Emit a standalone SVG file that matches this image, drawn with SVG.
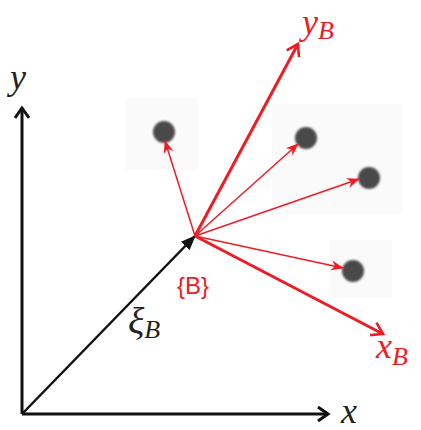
<svg xmlns="http://www.w3.org/2000/svg" width="421" height="430" viewBox="0 0 421 430">
<defs>
<marker id="openK" markerWidth="16" markerHeight="16" refX="13" refY="8" orient="auto" markerUnits="userSpaceOnUse"><path d="M3,1 L13,8 L3,15" fill="none" stroke="#111" stroke-width="3"/></marker>
<marker id="openR" markerWidth="18" markerHeight="18" refX="14" refY="9" orient="auto" markerUnits="userSpaceOnUse"><path d="M3,2 L14,9 L3,16" fill="none" stroke="#ee1c24" stroke-width="2.6"/></marker>
<marker id="fillK" markerWidth="16" markerHeight="14" refX="14" refY="7" orient="auto" markerUnits="userSpaceOnUse"><path d="M0,1 L15,7 L0,13 Z" fill="#111"/></marker>
<marker id="fillR" markerWidth="14" markerHeight="12" refX="12" refY="6" orient="auto" markerUnits="userSpaceOnUse"><path d="M0,1 L13,6 L0,11 L4,6 Z" fill="#ee1c24"/></marker>
<filter id="blur" x="-50%" y="-50%" width="200%" height="200%"><feGaussianBlur stdDeviation="1.2"/></filter>
</defs>
<style>
.ax{stroke:#111;stroke-width:3;fill:none}
.rx{stroke:#ee1c24;stroke-width:3;fill:none}
.rt{stroke:#ee1c24;stroke-width:1.5;fill:none}
.dot{fill:#4a4a4a;filter:url(#blur)}
.it{font-family:'Liberation Serif',serif;font-style:italic}
.patch{fill:#fafafa}
</style>
<g id="patches">
<rect class="patch" x="126" y="98" width="72" height="72"/>
<rect class="patch" x="272" y="104" width="130" height="110"/>
<rect class="patch" x="330" y="240" width="62" height="58"/>
</g>
<g id="dots">
<circle id="dot1" class="dot" cx="164" cy="132" r="11"/>
<circle id="dot2" class="dot" cx="306" cy="138" r="11"/>
<circle id="dot3" class="dot" cx="369" cy="178" r="11"/>
<circle id="dot4" class="dot" cx="353" cy="271" r="11"/>
</g>
<g id="connectors">
<line class="ax" x1="22" y1="414" x2="22" y2="108" marker-end="url(#openK)"/>
<line class="ax" x1="22" y1="414" x2="328" y2="414" marker-end="url(#openK)"/>
<line stroke="#111" stroke-width="2.5" x1="22" y1="414" x2="195" y2="236" marker-end="url(#fillK)"/>
<line class="rx" x1="195" y1="236" x2="298" y2="44" marker-end="url(#openR)"/>
<line class="rx" x1="195" y1="236" x2="383" y2="334" marker-end="url(#openR)"/>
<line class="rt" x1="195" y1="236" x2="165" y2="141" marker-end="url(#fillR)"/>
<line class="rt" x1="195" y1="236" x2="298" y2="144" marker-end="url(#fillR)"/>
<line class="rt" x1="195" y1="236" x2="359" y2="179" marker-end="url(#fillR)"/>
<line class="rt" x1="195" y1="236" x2="343" y2="268" marker-end="url(#fillR)"/>
</g>
<g id="labels">
<text class="it" x="10" y="89" font-size="36" fill="#222">y</text>
<text class="it" x="341" y="423" font-size="36" fill="#222">x</text>
<text class="it" x="128" y="334" font-size="38" fill="#222">ξ<tspan font-size="26" dy="4">B</tspan></text>
<text x="177" y="294" font-family="'Liberation Sans',sans-serif" font-size="24" fill="#ee1c24">{B}</text>
<text class="it" x="302" y="34" font-size="36" fill="#ee1c24">y<tspan font-size="26" dy="5">B</tspan></text>
<text class="it" x="376" y="358" font-size="36" fill="#ee1c24">x<tspan font-size="26" dy="7">B</tspan></text>
</g>
</svg>
